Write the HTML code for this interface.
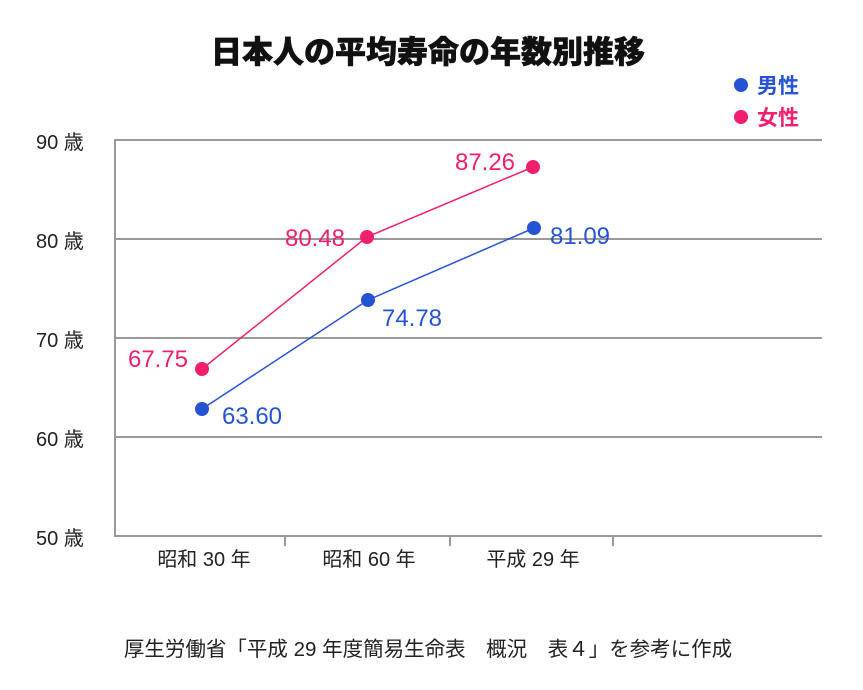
<!DOCTYPE html>
<html><head><meta charset="utf-8"><style>
body{margin:0;background:#fff;}
svg{display:block;font-family:"Liberation Sans","Noto Sans CJK JP",sans-serif;}
</style></head><body>
<svg width="863" height="690" viewBox="0 0 863 690">
<text x="428" y="63" font-size="31" font-weight="900" text-anchor="middle" fill="#111" stroke="#111" stroke-width="0.6">日本人の平均寿命の年数別推移</text>
<circle cx="741" cy="85" r="7" fill="#2453d4"/>
<text x="757" y="93" font-size="21" font-weight="bold" fill="#2453d4">男性</text>
<circle cx="741" cy="117" r="7" fill="#f0206e"/>
<text x="757" y="125" font-size="21" font-weight="bold" fill="#f0206e">女性</text>
<g stroke="#999" stroke-width="2" fill="none">
<line x1="115" y1="140" x2="822" y2="140"/>
<line x1="115" y1="239" x2="822" y2="239"/>
<line x1="115" y1="338" x2="822" y2="338"/>
<line x1="115" y1="437" x2="822" y2="437"/>
<line x1="115" y1="536" x2="822" y2="536"/>
<line x1="115" y1="139" x2="115" y2="537"/>
<line x1="285" y1="536" x2="285" y2="546"/>
<line x1="450" y1="536" x2="450" y2="546"/>
<line x1="613" y1="536" x2="613" y2="546"/>
</g>
<g font-size="20" fill="#222">
<text x="36" y="149">90 歳</text>
<text x="36" y="248">80 歳</text>
<text x="36" y="347">70 歳</text>
<text x="36" y="446">60 歳</text>
<text x="36" y="545">50 歳</text>
<text x="204" y="566" text-anchor="middle">昭和 30 年</text>
<text x="369" y="566" text-anchor="middle">昭和 60 年</text>
<text x="533" y="566" text-anchor="middle">平成 29 年</text>
</g>
<polyline points="202,369 367,237 533,167" fill="none" stroke="#f0206e" stroke-width="1.5"/>
<polyline points="202,409 368,300 534,228" fill="none" stroke="#2453d4" stroke-width="1.5"/>
<g fill="#f0206e"><circle cx="202" cy="369" r="7"/><circle cx="367" cy="237" r="7"/><circle cx="533" cy="167" r="7"/></g>
<g fill="#2453d4"><circle cx="202" cy="409" r="7"/><circle cx="368" cy="300" r="7"/><circle cx="534" cy="228" r="7"/></g>
<g font-size="24">
<text x="158" y="367" text-anchor="middle" fill="#f0206e">67.75</text>
<text x="315" y="246" text-anchor="middle" fill="#f0206e">80.48</text>
<text x="485" y="170" text-anchor="middle" fill="#f0206e">87.26</text>
<text x="252" y="424" text-anchor="middle" fill="#2453d4">63.60</text>
<text x="412" y="326" text-anchor="middle" fill="#2453d4">74.78</text>
<text x="580" y="244" text-anchor="middle" fill="#2453d4">81.09</text>
</g>
<text x="428" y="656" font-size="20.5" text-anchor="middle" fill="#222">厚生労働省「平成 29 年度簡易生命表　概況　表４」を参考に作成</text>
</svg>
</body></html>
